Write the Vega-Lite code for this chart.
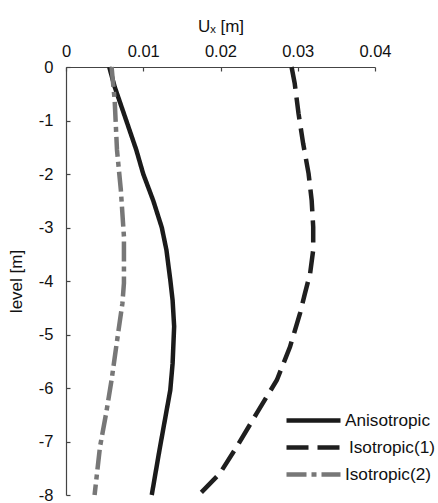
{
  "$schema": "https://vega.github.io/schema/vega-lite/v6.json",
  "autosize": "none",
  "width": 309,
  "height": 428,
  "padding": {"left": 66, "top": 67, "right": 63, "bottom": 8},
  "background": "white",
  "config": {
    "font": "Liberation Sans",
    "view": {"stroke": null},
    "axis": {"grid": false, "domainColor": "#444", "tickColor": "#444", "labelColor": "#111", "titleColor": "#111", "labelFontSize": 16.5, "titleFontSize": 17, "titleFontWeight": "normal", "tickSize": -4, "domainWidth": 1.2, "tickWidth": 1.2}
  },
  "data": {
    "values": [
      {"series": "Anisotropic", "x": 0.0056, "level": 0},
      {"series": "Anisotropic", "x": 0.0063, "level": -0.37},
      {"series": "Anisotropic", "x": 0.0078, "level": -1.0},
      {"series": "Anisotropic", "x": 0.0091, "level": -1.55},
      {"series": "Anisotropic", "x": 0.0100, "level": -2.0},
      {"series": "Anisotropic", "x": 0.0113, "level": -2.5},
      {"series": "Anisotropic", "x": 0.0124, "level": -3.0},
      {"series": "Anisotropic", "x": 0.0130, "level": -3.42},
      {"series": "Anisotropic", "x": 0.0135, "level": -3.98},
      {"series": "Anisotropic", "x": 0.0138, "level": -4.36},
      {"series": "Anisotropic", "x": 0.0140, "level": -4.85},
      {"series": "Anisotropic", "x": 0.0138, "level": -5.54},
      {"series": "Anisotropic", "x": 0.0135, "level": -6.04},
      {"series": "Anisotropic", "x": 0.0128, "level": -6.6},
      {"series": "Anisotropic", "x": 0.0121, "level": -7.16},
      {"series": "Anisotropic", "x": 0.0111, "level": -8.0},
      {"series": "Isotropic(1)", "x": 0.0292, "level": 0},
      {"series": "Isotropic(1)", "x": 0.0296, "level": -0.3},
      {"series": "Isotropic(1)", "x": 0.0301, "level": -0.87},
      {"series": "Isotropic(1)", "x": 0.0307, "level": -1.43},
      {"series": "Isotropic(1)", "x": 0.0314, "level": -1.99},
      {"series": "Isotropic(1)", "x": 0.0318, "level": -2.49},
      {"series": "Isotropic(1)", "x": 0.0320, "level": -2.99},
      {"series": "Isotropic(1)", "x": 0.0320, "level": -3.42},
      {"series": "Isotropic(1)", "x": 0.0316, "level": -3.86},
      {"series": "Isotropic(1)", "x": 0.0309, "level": -4.25},
      {"series": "Isotropic(1)", "x": 0.0303, "level": -4.6},
      {"series": "Isotropic(1)", "x": 0.0290, "level": -5.23},
      {"series": "Isotropic(1)", "x": 0.0273, "level": -5.85},
      {"series": "Isotropic(1)", "x": 0.0247, "level": -6.47},
      {"series": "Isotropic(1)", "x": 0.0221, "level": -7.1},
      {"series": "Isotropic(1)", "x": 0.0199, "level": -7.6},
      {"series": "Isotropic(1)", "x": 0.0172, "level": -8.0},
      {"series": "Isotropic(2)", "x": 0.0059, "level": 0},
      {"series": "Isotropic(2)", "x": 0.0063, "level": -0.62},
      {"series": "Isotropic(2)", "x": 0.0066, "level": -1.55},
      {"series": "Isotropic(2)", "x": 0.0071, "level": -2.3},
      {"series": "Isotropic(2)", "x": 0.0075, "level": -3.17},
      {"series": "Isotropic(2)", "x": 0.0075, "level": -4.04},
      {"series": "Isotropic(2)", "x": 0.0073, "level": -4.42},
      {"series": "Isotropic(2)", "x": 0.0068, "level": -4.92},
      {"series": "Isotropic(2)", "x": 0.0059, "level": -5.85},
      {"series": "Isotropic(2)", "x": 0.0052, "level": -6.47},
      {"series": "Isotropic(2)", "x": 0.0044, "level": -7.1},
      {"series": "Isotropic(2)", "x": 0.0037, "level": -8.0}
    ]
  },
  "mark": {"type": "line", "strokeWidth": 4.5, "clip": false},
  "encoding": {
    "x": {
      "field": "x", "type": "quantitative",
      "scale": {"domain": [0, 0.04], "nice": false},
      "axis": {"orient": "top", "values": [0, 0.01, 0.02, 0.03, 0.04], "format": ".2~f", "title": "Uₓ [m]", "labelPadding": 12, "titlePadding": 8, "labelFlush": false}
    },
    "y": {
      "field": "level", "type": "quantitative",
      "scale": {"domain": [-8, 0], "nice": false},
      "axis": {"values": [0, -1, -2, -3, -4, -5, -6, -7, -8], "labelExpr": "datum.value + ''", "title": "level [m]", "labelPadding": 17, "titlePadding": 13}
    },
    "order": {"field": "level", "sort": "descending"},
    "color": {
      "field": "series", "type": "nominal",
      "scale": {"domain": ["Anisotropic", "Isotropic(1)", "Isotropic(2)"], "range": ["#1a1a1a", "#1f1f1f", "#777777"]},
      "legend": {"orient": "none", "legendX": 218, "legendY": 342, "title": null, "symbolType": "M-3,0H3", "symbolSize": 324, "symbolOffset": 18, "symbolStrokeWidth": 4.5, "labelFontSize": 17.2, "labelColor": "#111", "labelOffset": 20, "rowPadding": 6,
        "encode": {"labels": {"update": {"dx": {"signal": "datum.label == 'Isotropic(1)' ? 4 : 0"}}}}}
    },
    "strokeDash": {
      "field": "series", "type": "nominal",
      "scale": {"domain": ["Anisotropic", "Isotropic(1)", "Isotropic(2)"], "range": [[1, 0], [22, 9], [20, 5, 5, 5]]},
      "legend": null
    }
  }
}
